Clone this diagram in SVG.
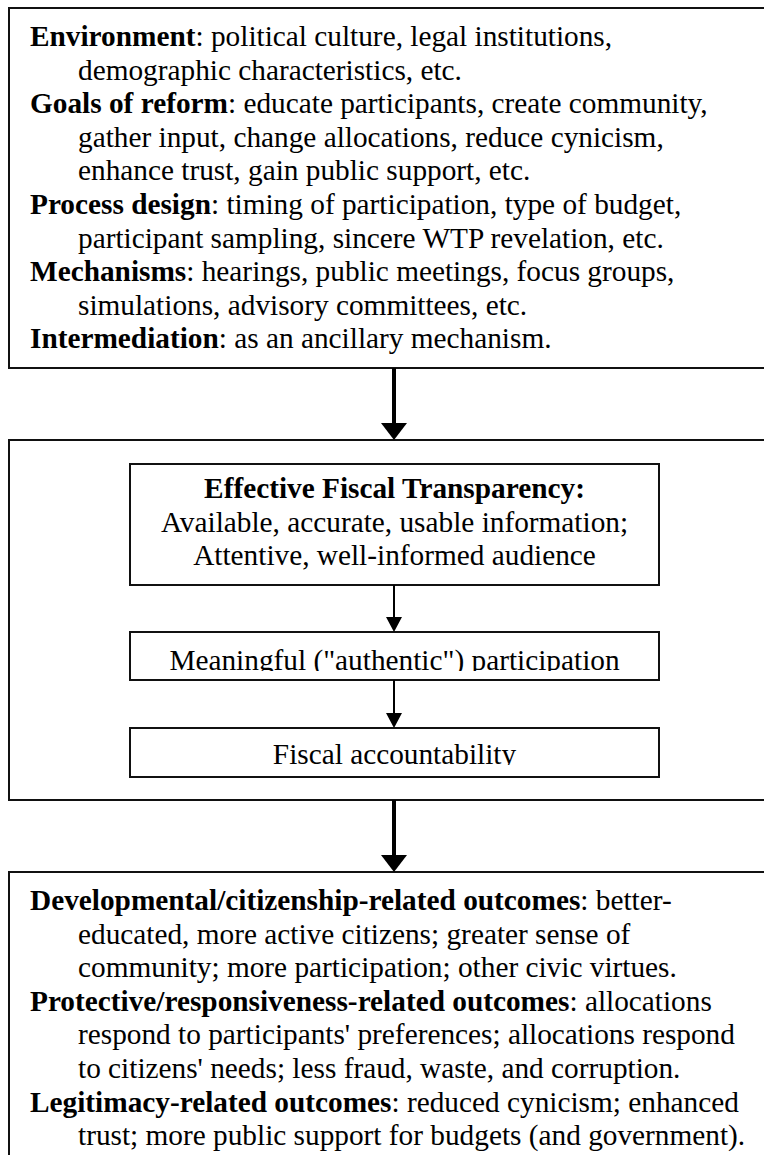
<svg xmlns="http://www.w3.org/2000/svg" width="764" height="1155" viewBox="0 0 764 1155">
  <style>
    .box { fill: #fff; stroke: #111; stroke-width: 2; }
    .t { font-family: "Liberation Serif", "Times New Roman", serif; font-size: 29.3px; fill: #000; }
    .b { font-weight: bold; }
    .c { text-anchor: middle; }
    .thick { stroke: #000; stroke-width: 4; fill: none; }
    .thin { stroke: #000; stroke-width: 2; fill: none; }
  </style>
  <defs>
    <marker id="headBig" viewBox="0 0 17 26" markerWidth="17" markerHeight="26" refX="7" refY="13" orient="auto" markerUnits="userSpaceOnUse">
      <path d="M0,0 L17,13 L0,26 z" fill="#000"/>
    </marker>
    <marker id="headSmall" viewBox="0 0 15 16" markerWidth="15" markerHeight="16" refX="9" refY="8" orient="auto" markerUnits="userSpaceOnUse">
      <path d="M0,0 L15,8 L0,16 z" fill="#000"/>
    </marker>
    <clipPath id="clipParticipation"><rect x="130" y="632" width="529" height="39"/></clipPath>
    <clipPath id="clipAccountability"><rect x="130" y="728" width="529" height="37"/></clipPath>
  </defs>

  <!-- inputs: environment, goals, design, mechanisms -->
  <g id="inputs">
    <rect class="box" x="9" y="8" width="800" height="360"/>
    <text class="t" x="30" y="46"><tspan class="b">Environment</tspan>: political culture, legal institutions,</text>
    <text class="t" x="78" y="79.6">demographic characteristics, etc.</text>
    <text class="t" x="30" y="113.2"><tspan class="b">Goals of reform</tspan>: educate participants, create community,</text>
    <text class="t" x="78" y="146.8">gather input, change allocations, reduce cynicism,</text>
    <text class="t" x="78" y="180.4">enhance trust, gain public support, etc.</text>
    <text class="t" x="30" y="214"><tspan class="b">Process design</tspan>: timing of participation, type of budget,</text>
    <text class="t" x="78" y="247.6">participant sampling, sincere WTP revelation, etc.</text>
    <text class="t" x="30" y="281.2"><tspan class="b">Mechanisms</tspan>: hearings, public meetings, focus groups,</text>
    <text class="t" x="78" y="314.8">simulations, advisory committees, etc.</text>
    <text class="t" x="30" y="348.4"><tspan class="b">Intermediation</tspan>: as an ancillary mechanism.</text>
  </g>

  <!-- middle frame holding the transparency chain -->
  <g id="chain">
    <rect class="box" x="9" y="440" width="800" height="360"/>
  </g>

  <g id="transparency">
    <rect class="box" x="130" y="464" width="529" height="121"/>
    <text class="t c b" x="394.5" y="498">Effective Fiscal Transparency:</text>
    <text class="t c" x="394.5" y="531.5">Available, accurate, usable information;</text>
    <text class="t c" x="394.5" y="565">Attentive, well-informed audience</text>
  </g>

  <g id="participation">
    <rect class="box" x="130" y="632" width="529" height="48"/>
    <text class="t c" x="394.5" y="670" clip-path="url(#clipParticipation)">Meaningful ("authentic") participation</text>
  </g>

  <g id="accountability">
    <rect class="box" x="130" y="728" width="529" height="49"/>
    <text class="t c" x="394.5" y="764" clip-path="url(#clipAccountability)">Fiscal accountability</text>
  </g>

  <!-- outcomes -->
  <g id="outcomes">
    <rect class="box" x="9" y="872" width="800" height="400"/>
    <text class="t" x="30" y="910"><tspan class="b">Developmental/citizenship-related outcomes</tspan>: better-</text>
    <text class="t" x="78" y="943.6">educated, more active citizens; greater sense of</text>
    <text class="t" x="78" y="977.2">community; more participation; other civic virtues.</text>
    <text class="t" x="30" y="1010.8"><tspan class="b">Protective/responsiveness-related outcomes</tspan>: allocations</text>
    <text class="t" x="78" y="1044.4">respond to participants' preferences; allocations respond</text>
    <text class="t" x="78" y="1078">to citizens' needs; less fraud, waste, and corruption.</text>
    <text class="t" x="30" y="1111.6"><tspan class="b">Legitimacy-related outcomes</tspan>: reduced cynicism; enhanced</text>
    <text class="t" x="78" y="1145.2">trust; more public support for budgets (and government).</text>
  </g>

  <!-- connectors -->
  <g id="connectors">
    <line class="thick" x1="394" y1="368" x2="394" y2="430" marker-end="url(#headBig)"/>
    <line class="thin" x1="394" y1="585" x2="394" y2="626" marker-end="url(#headSmall)"/>
    <line class="thin" x1="394" y1="680" x2="394" y2="722" marker-end="url(#headSmall)"/>
    <line class="thick" x1="394" y1="800" x2="394" y2="862" marker-end="url(#headBig)"/>
  </g>
</svg>
